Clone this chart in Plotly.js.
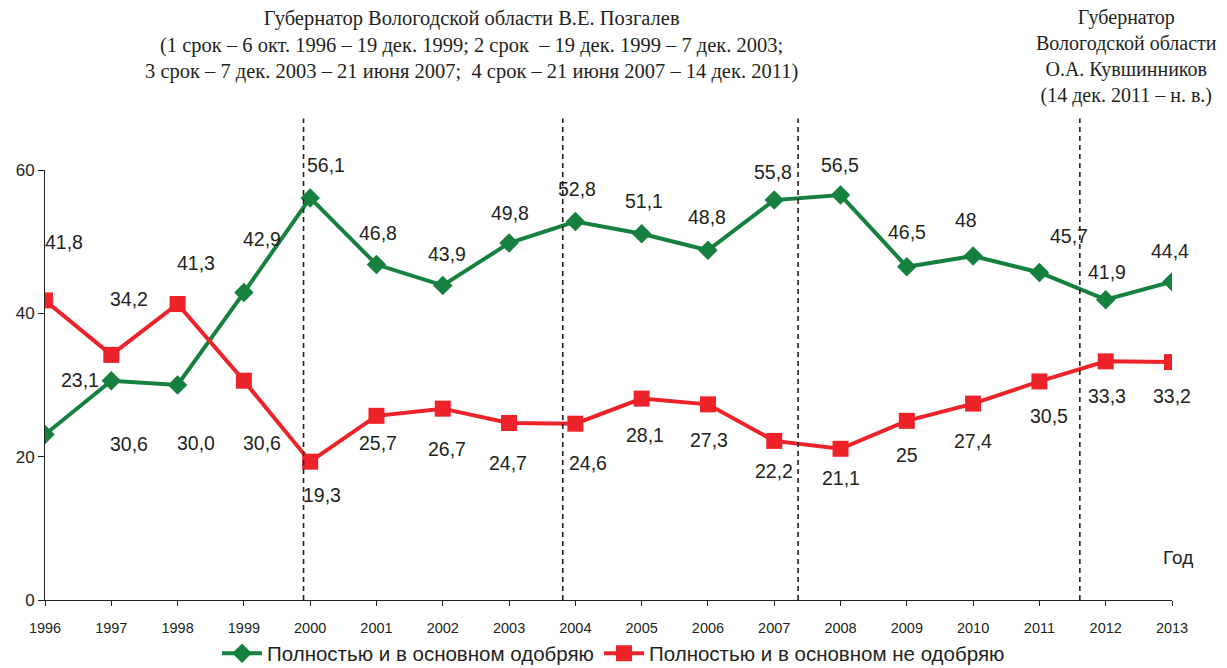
<!DOCTYPE html>
<html><head><meta charset="utf-8">
<script src="https://cdn.plot.ly/plotly-3.0.1.min.js"></script>
<style>html,body{margin:0;padding:0;background:#fff;}#chart{width:1227px;height:668px;}</style>
</head><body><div id="chart"></div>
<script>
const years = [1996,1997,1998,1999,2000,2001,2002,2003,2004,2005,2006,2007,2008,2009,2010,2011,2012,2013];
const approve = [23.1,30.6,30.0,42.9,56.1,46.8,43.9,49.8,52.8,51.1,48.8,55.8,56.5,46.5,48,45.7,41.9,44.4];
const disapprove = [41.8,34.2,41.3,30.6,19.3,25.7,26.7,24.7,24.6,28.1,27.3,22.2,21.1,25,27.4,30.5,33.3,33.2];
const approveLabels = ['23,1','30,6','30,0','42,9','56,1','46,8','43,9','49,8','52,8','51,1','48,8','55,8','56,5','46,5','48','45,7','41,9','44,4'];
const disapproveLabels = ['41,8','34,2','41,3','30,6','19,3','25,7','26,7','24,7','24,6','28,1','27,3','22,2','21,1','25','27,4','30,5','33,3','33,2'];
const seriesNames = ['Полностью и в основном одобряю','Полностью и в основном не одобряю'];
const governorTerms = [1999.9, 2003.81, 2007.36, 2011.61];

// label offsets in pixels (dx, dy) relative to the point
const approveOff = [[35,-54],[18,63],[18,58],[18,-54],[16,-33],[2,-32],[4,-31],[1,-30],[2,-33],[2,-33],[-1,-33],[-1,-28],[-1,-30],[0,-35],[-7,-36],[30,-36],[1,-28],[-2,-31]];
const disapproveOff = [[19,-58],[18,-56],[18,-41],[18,62],[12,33],[2,27],[4,40],[-1,40],[13,39],[3,36],[1,36],[0,30],[0,29],[0,34],[0,37],[10,35],[1,35],[0,34]];

const green = '#16803f', red = '#ee2229', ink = '#231f20';
const sans = 'Liberation Sans, Arial', serif = 'Liberation Serif, Times New Roman';
const traces = [
  {x: years, y: approve, name: seriesNames[0], type:'scatter', mode:'lines+markers',
   line:{color:green, width:4}, marker:{symbol:'diamond', size:15, color:green}},
  {x: years, y: disapprove, name: seriesNames[1], type:'scatter', mode:'lines+markers',
   line:{color:red, width:4}, marker:{symbol:'square', size:16, color:red}}
];

const annotations = [];
years.forEach((yr,i)=>{
  annotations.push({x:yr, y:approve[i], text:approveLabels[i], showarrow:true, arrowcolor:'rgba(0,0,0,0)', ax:approveOff[i][0], ay:approveOff[i][1], font:{family:sans, size:19.5, color:ink}});
  annotations.push({x:yr, y:disapprove[i], text:disapproveLabels[i], showarrow:true, arrowcolor:'rgba(0,0,0,0)', ax:disapproveOff[i][0], ay:disapproveOff[i][1], font:{family:sans, size:19.5, color:ink}});
});
annotations.push({xref:'paper', yref:'paper', x:0.378, y:1.29, yanchor:'middle', xanchor:'center', showarrow:false, align:'center',
  text:'Губернатор Вологодской области В.Е. Позгалев<br>(1 срок – 6 окт. 1996 – 19 дек. 1999; 2 срок  – 19 дек. 1999 – 7 дек. 2003;<br>3 срок – 7 дек. 2003 – 21 июня 2007;  4 срок – 21 июня 2007 – 14 дек. 2011)',
  font:{family:serif, size:20.5, color:ink}});
annotations.push({xref:'paper', yref:'paper', x:0.96, y:1.265, yanchor:'middle', xanchor:'center', showarrow:false, align:'center',
  text:'Губернатор<br>Вологодской области<br>О.А. Кувшинников<br>(14 дек. 2011 – н. в.)',
  font:{family:serif, size:20, color:ink}});
annotations.push({xref:'paper', yref:'paper', x:1.005, y:0.1, showarrow:false, xanchor:'center', yanchor:'middle', text:'Год',
  font:{family:sans, size:19, color:ink}});

const shapes = governorTerms.map(v=>({type:'line', xref:'x', yref:'paper', x0:v, x1:v, y0:0, y1:1.12,
  line:{color:ink, width:1.6, dash:'5px,4px'}}));

const layout = {
  width:1227, height:668,
  margin:{l:45, r:55, t:170, b:68},
  paper_bgcolor:'#fff', plot_bgcolor:'#fff',
  showlegend:true,
  legend:{orientation:'h', xref:'container', yref:'container', x:0.5, xanchor:'center', y:0.022, yanchor:'middle',
    font:{family:sans, size:20.5, color:ink}, itemwidth:40, tracegroupgap:0, bgcolor:'rgba(0,0,0,0)'},
  xaxis:{range:[1996,2013], tickmode:'array', tickvals:years, ticktext:years.map(String),
    showgrid:false, zeroline:false, showline:true, linecolor:ink, linewidth:1,
    ticks:'outside', ticklen:5, tickcolor:ink, ticklabelstandoff:10,
    tickfont:{family:sans, size:14.5, color:ink}, fixedrange:true},
  yaxis:{range:[0,60], tickvals:[0,20,40,60], showgrid:false, zeroline:false, showline:true,
    linecolor:ink, linewidth:1, ticks:'outside', ticklen:6, tickcolor:ink,
    tickfont:{family:sans, size:17, color:ink}},
  annotations: annotations,
  shapes: shapes
};
Plotly.newPlot('chart', traces, layout, {displayModeBar:false, staticPlot:true});
</script></body></html>
